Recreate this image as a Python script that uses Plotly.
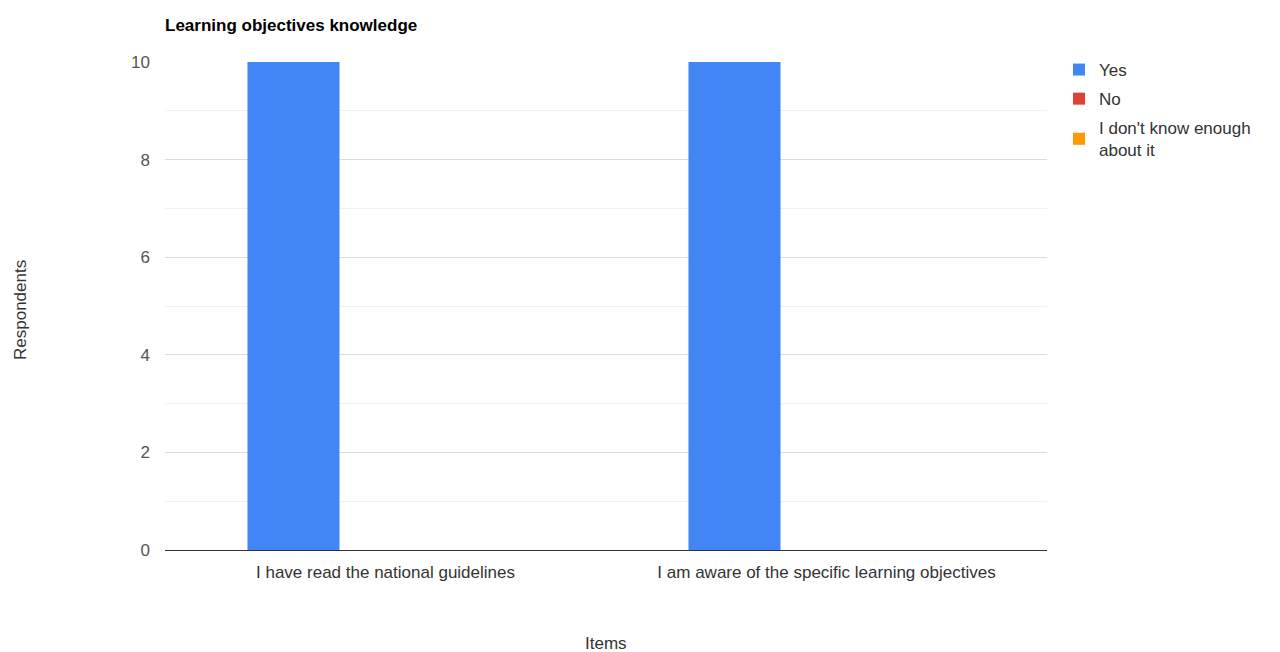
import plotly.graph_objects as go

categories = ["I have read the national guidelines", "I am aware of the specific learning objectives"]
series_names = ["Yes", "No", "I don't know enough<br>about it"]
yes_values = [10, 10]
no_values = [0, 0]
dk_values = [0, 0]
colors = ["#4285F4", "#DB4437", "#FF9900"]

fig = go.Figure()
for i, (name, vals, col) in enumerate(zip(series_names, [yes_values, no_values, dk_values], colors)):
    fig.add_trace(go.Bar(x=categories, y=vals, name=name, marker_color=col, marker_line_width=0,
                         legendgroup=f"g{i}"))

OFF = 8  # page body margin
W, H = 1280, 652
L, T = 165 - OFF, 62 - OFF
R = W - (1047 - OFF)
B = H - (550 - OFF)
pw = W - L - R
ph = H - T - B
FS = 17

fig.update_layout(
    width=W, height=H,
    margin=dict(l=L, r=R, t=T, b=B, autoexpand=False),
    paper_bgcolor="white", plot_bgcolor="white",
    font=dict(family="Liberation Sans, Arial, sans-serif", size=FS, color="#555"),
    barmode="group", bargap=0.374, bargroupgap=0,
    title=dict(text="<b>Learning objectives knowledge</b>", x=L / W, xanchor="left",
               y=1 - (25 - OFF) / H, yanchor="middle", font=dict(size=FS, color="#000")),
    legend=dict(x=(1059 - OFF - L) / pw, xanchor="left", y=1.0 + 10 / ph, yanchor="top",
                font=dict(size=FS, color="#333"), tracegroupgap=4, itemwidth=30),
    showlegend=True,
)
fig.update_xaxes(showgrid=False, showline=False, ticks="", ticklabelstandoff=10,
                 tickfont=dict(size=FS, color="#333"))
fig.update_yaxes(range=[0, 10], dtick=2, showgrid=True, gridcolor="#dcdcdc", gridwidth=1,
                 zeroline=True, zerolinecolor="#333333", zerolinewidth=1,
                 minor=dict(dtick=1, showgrid=True, gridcolor="#f1f1f1"),
                 ticklabelstandoff=14, tickfont=dict(size=FS, color="#555"), showline=False)

fig.add_annotation(text="Respondents", textangle=-90, xref="paper", yref="paper",
                   x=(20 - OFF - L) / pw, y=(550 - 310) / ph, xanchor="center", yanchor="middle",
                   showarrow=False, font=dict(size=FS, color="#333"))
fig.add_annotation(text="Items", xref="paper", yref="paper",
                   x=0.5, y=(550 - 643) / ph, xanchor="center", yanchor="middle",
                   showarrow=False, font=dict(size=FS, color="#333"))

fig.write_html("out.html")
